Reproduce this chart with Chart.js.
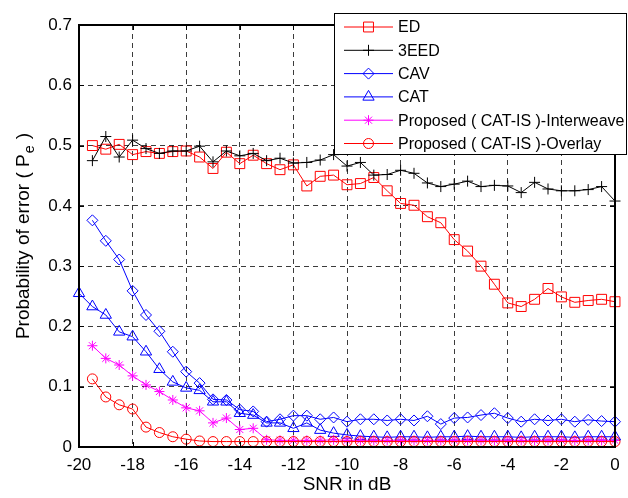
<!DOCTYPE html>
<html><head><meta charset="utf-8">
<script src="https://cdn.jsdelivr.net/npm/chart.js@4.4.0/dist/chart.umd.min.js"></script>
<style>html,body{margin:0;padding:0;background:#fff;}#wrap{width:628px;height:498px;}</style>
</head><body><div id="wrap"><canvas id="c" width="628" height="498"></canvas></div>
<script>
// SNR values (dB)
const snr = [-20,-19.5,-19,-18.5,-18,-17.5,-17,-16.5,-16,-15.5,-15,-14.5,-14,-13.5,-13,-12.5,-12,-11.5,-11,-10.5,-10,
  -9.5,-9,-8.5,-8,-7.5,-7,-6.5,-6,-5.5,-5,-4.5,-4,-3.5,-3,-2.5,-2,-1.5,-1,-0.5,0];
const xTicks = [-20,-18,-16,-14,-12,-10,-8,-6,-4,-2,0];
const yTicks = [0,0.1,0.2,0.3,0.4,0.5,0.6,0.7];

const ed = [null,0.500,0.494,0.502,0.485,0.490,0.487,0.490,0.491,0.481,0.462,
  0.489,0.470,0.484,0.470,0.460,0.468,0.433,0.449,0.451,0.435,
  0.437,0.447,0.425,0.404,0.401,0.382,0.372,0.344,0.325,0.300,
  0.270,0.239,0.233,0.245,0.263,0.249,0.240,0.243,0.245,0.241];
const eed3 = [null,0.475,0.515,0.481,0.509,0.495,0.487,0.491,0.491,0.499,0.473,
  0.491,0.483,0.487,0.475,0.479,0.471,0.472,0.476,0.485,0.466,
  0.472,0.451,0.452,0.459,0.454,0.438,0.432,0.436,0.441,0.432,
  0.434,0.433,0.422,0.439,0.428,0.425,0.425,0.427,0.432,0.408];
const cav = [null,0.376,0.342,0.311,0.259,0.219,0.192,0.158,0.125,0.106,0.079,
  0.078,0.062,0.059,0.042,0.046,0.052,0.052,0.046,0.049,0.042,
  0.046,0.046,0.044,0.046,0.044,0.051,0.038,0.048,0.049,0.053,
  0.056,0.048,0.042,0.046,0.044,0.046,0.042,0.045,0.043,0.042];
const cat = [0.255,0.233,0.219,0.191,0.183,0.158,0.129,0.108,0.098,0.094,0.075,
  0.075,0.056,0.053,0.040,0.040,0.031,0.040,0.028,0.023,0.020,
  0.018,0.017,0.016,0.017,0.017,0.016,0.017,0.017,0.018,0.017,
  0.017,0.017,0.016,0.017,0.017,0.017,0.016,0.017,0.017,0.017];
const interweave = [null,0.168,0.147,0.136,0.118,0.103,0.092,0.078,0.065,0.060,0.040,
  0.048,0.029,0.031,0.012,0.011,0.011,0.011,0.011,0.012,0.011,
  0.011,0.011,0.011,0.011,0.011,0.011,0.011,0.011,0.011,0.011,
  0.011,0.011,0.011,0.011,0.011,0.011,0.011,0.011,0.011,0.011];
const overlay = [null,0.113,0.083,0.070,0.063,0.033,0.024,0.017,0.013,0.010,0.009,
  0.009,0.009,0.009,0.009,0.009,0.009,0.009,0.009,0.009,0.009,
  0.009,0.009,0.009,0.009,0.009,0.009,0.009,0.009,0.009,0.009,
  0.009,0.009,0.009,0.009,0.009,0.009,0.009,0.009,0.009,0.009];
const labels = ['ED','3EED','CAV','CAT','Proposed ( CAT-IS )-Interweave','Proposed ( CAT-IS )-Overlay'];

const FONT = "'Liberation Sans', Arial, Helvetica, sans-serif";
Chart.defaults.font.family = FONT;

function pts(vals){ const out=[]; vals.forEach((v,i)=>{ if(v!==null) out.push({x:snr[i],y:v}); }); return out; }
function mk(label, vals, color, style, r, order){
  return { label, data: pts(vals), borderColor: color, backgroundColor: 'rgba(0,0,0,0)',
    pointBorderColor: color, pointBackgroundColor: 'rgba(0,0,0,0)', borderWidth: 1,
    pointStyle: style, pointRadius: r, pointHoverRadius: r, pointBorderWidth: 1,
    tension: 0, clip: false, order };
}
const datasets = [
  mk(labels[0], ed, '#ff0000', 'rect', 7, 5),
  mk(labels[1], eed3, '#000000', 'cross', 5.5, 4),
  mk(labels[2], cav, '#0000ff', 'rectRot', 5.5, 3),
  mk(labels[3], cat, '#0000ff', 'triangle', 6.5, 2),
  mk(labels[4], interweave, '#ff00ff', 'star', 5, 1),
  mk(labels[5], overlay, '#ff0000', 'circle', 5, 0)
];

function drawMk(ctx, style, x, y, r, color){
  ctx.save(); ctx.strokeStyle=color; ctx.lineWidth=1; ctx.beginPath();
  if(style==='rect'){ const s=Math.SQRT1_2*r; ctx.rect(x-s,y-s,2*s,2*s); }
  else if(style==='cross'){ ctx.moveTo(x-r,y); ctx.lineTo(x+r,y); ctx.moveTo(x,y-r); ctx.lineTo(x,y+r); }
  else if(style==='rectRot'){ ctx.moveTo(x,y-r); ctx.lineTo(x+r,y); ctx.lineTo(x,y+r); ctx.lineTo(x-r,y); ctx.closePath(); }
  else if(style==='triangle'){ let a=0; ctx.moveTo(x+Math.sin(a)*r,y-Math.cos(a)*r); a+=2*Math.PI/3; ctx.lineTo(x+Math.sin(a)*r,y-Math.cos(a)*r); a+=2*Math.PI/3; ctx.lineTo(x+Math.sin(a)*r,y-Math.cos(a)*r); ctx.closePath(); }
  else if(style==='star'){ ctx.moveTo(x-r,y); ctx.lineTo(x+r,y); ctx.moveTo(x,y-r); ctx.lineTo(x,y+r); const d=r*Math.SQRT1_2; ctx.moveTo(x-d,y-d); ctx.lineTo(x+d,y+d); ctx.moveTo(x-d,y+d); ctx.lineTo(x+d,y-d); }
  else if(style==='circle'){ ctx.arc(x,y,r,0,Math.PI*2); }
  ctx.stroke(); ctx.restore();
}

const deco = {
  id: 'deco',
  afterDatasetsDraw(chart){
    const ctx = chart.ctx, a = chart.chartArea, xs = chart.scales.x, ys = chart.scales.y;
    ctx.save();
    ctx.strokeStyle = '#000'; ctx.lineWidth = 1;
    ctx.beginPath();
    xTicks.forEach(t=>{ const px = Math.round(xs.getPixelForValue(t))+0.5;
      ctx.moveTo(px,a.bottom); ctx.lineTo(px,a.bottom-5); ctx.moveTo(px,a.top); ctx.lineTo(px,a.top+5); });
    yTicks.forEach(t=>{ const py = Math.round(ys.getPixelForValue(t))+0.5;
      ctx.moveTo(a.left,py); ctx.lineTo(a.left+5,py); ctx.moveTo(a.right,py); ctx.lineTo(a.right-5,py); });
    ctx.stroke();
    ctx.lineWidth = 2;
    ctx.strokeRect(a.left, a.top, a.right-a.left, a.bottom-a.top);
    ctx.restore();
  },
  afterDraw(chart){
    const ctx = chart.ctx, a = chart.chartArea;
    ctx.save();
    // legend
    const lx=334, ly=13, lw=293, lh=142;
    ctx.fillStyle='#fff'; ctx.fillRect(lx,ly,lw,lh);
    ctx.strokeStyle='#000'; ctx.lineWidth=1; ctx.strokeRect(lx+0.5,ly+0.5,lw-1,lh-1);
    ctx.font = '16px ' + FONT; ctx.textBaseline='middle'; ctx.textAlign='left';
    chart.data.datasets.forEach((ds,i)=>{
      const y = 27 + i*23.3;
      ctx.strokeStyle = ds.borderColor; ctx.lineWidth=1;
      ctx.beginPath(); ctx.moveTo(344,y); ctx.lineTo(393,y); ctx.stroke();
      drawMk(ctx, ds.pointStyle, 368.5, y, ds.pointRadius, ds.borderColor);
      ctx.fillStyle='#000'; ctx.fillText(ds.label, 398, y+1);
    });
    // x title
    ctx.font = '19px ' + FONT; ctx.textAlign='center'; ctx.textBaseline='middle'; ctx.fillStyle='#000';
    ctx.fillText('SNR in dB', (a.left+a.right)/2, 485);
    // y title with subscript
    const main = 'Probability of error ( P', sub = 'e', tail = ' )';
    ctx.font = '19px ' + FONT; const w1 = ctx.measureText(main).width, w3 = ctx.measureText(tail).width;
    ctx.font = '14px ' + FONT; const w2 = ctx.measureText(sub).width;
    const W = w1 + w2 + 2 + w3;
    ctx.translate(29, 236); ctx.rotate(-Math.PI/2);
    ctx.textAlign='left'; ctx.textBaseline='alphabetic';
    ctx.font = '19px ' + FONT; ctx.fillText(main, -W/2, 0);
    ctx.font = '14px ' + FONT; ctx.fillText(sub, -W/2 + w1 + 1, 5);
    ctx.font = '19px ' + FONT; ctx.fillText(tail, -W/2 + w1 + w2 + 2, 0);
    ctx.restore();
  }
};

const isEdge = (v, lo, hi) => Math.abs(v-lo) < 1e-9 || Math.abs(v-hi) < 1e-9;

new Chart(document.getElementById('c'), {
  type: 'line',
  data: { datasets },
  options: {
    responsive: false, animation: false,
    layout: { padding: { left: 0, right: 13, top: 25, bottom: 0 } },
    plugins: { legend: { display: false }, tooltip: { enabled: false } },
    scales: {
      x: { type: 'linear', min: -20, max: 0,
        afterFit(s){ s.height = 51; },
        afterBuildTicks(s){ s.ticks = xTicks.map(v=>({value:v})); },
        ticks: { autoSkip: false, maxRotation: 0, padding: 8, color: '#000', font: { size: 17 },
          callback: v => String(v) },
        grid: { drawTicks: false, lineWidth: 1,
          color: c => (c.tick && isEdge(c.tick.value,-20,0)) ? 'rgba(0,0,0,0)' : '#3c3c3c' },
        border: { display: false, dash: [5,4] }
      },
      y: { type: 'linear', min: 0, max: 0.7,
        afterFit(s){ s.width = 79; },
        afterBuildTicks(s){ s.ticks = yTicks.map(v=>({value:v})); },
        ticks: { autoSkip: false, padding: 7, color: '#000', font: { size: 17 },
          callback: v => (Math.abs(v)<1e-9 ? '0' : v.toFixed(1)) },
        grid: { drawTicks: false, lineWidth: 1,
          color: c => (c.tick && isEdge(c.tick.value,0,0.7)) ? 'rgba(0,0,0,0)' : '#3c3c3c' },
        border: { display: false, dash: [5,4] }
      }
    }
  },
  plugins: [deco]
});
</script></body></html>
